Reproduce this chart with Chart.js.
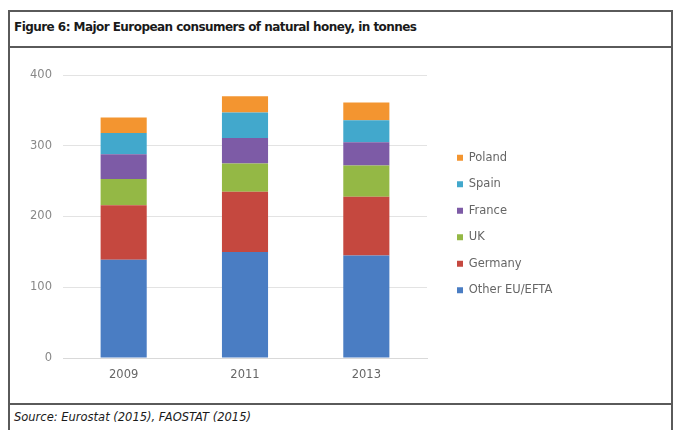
<!DOCTYPE html>
<html>
<head>
<meta charset="utf-8">
<script src="https://cdn.jsdelivr.net/npm/chart.js@4/dist/chart.umd.min.js"></script>
<style>
html,body{margin:0;padding:0;background:#fff;}
#wrap{position:relative;width:674px;height:430px;overflow:hidden;background:#fff;}
.ln{position:absolute;background:#5a5a5a;}
#title{position:absolute;left:14px;top:20px;font-family:"DejaVu Sans",sans-serif;font-weight:bold;font-size:12px;letter-spacing:-0.55px;color:#1a1a1a;white-space:nowrap;}
#src{position:absolute;left:14px;top:410px;font-family:"DejaVu Sans",sans-serif;font-style:italic;font-size:11.5px;color:#1a1a1a;white-space:nowrap;}
#cv{position:absolute;left:11px;top:49px;}
</style>
</head>
<body>
<div id="wrap">
  <div class="ln" style="left:8px;top:10px;width:2px;height:420px;"></div>
  <div class="ln" style="left:671px;top:10px;width:2px;height:420px;"></div>
  <div class="ln" style="left:8px;top:10px;width:665px;height:2px;"></div>
  <div class="ln" style="left:8px;top:46px;width:665px;height:2px;"></div>
  <div class="ln" style="left:8px;top:403px;width:665px;height:2px;"></div>
  <div id="title">Figure 6: Major European consumers of natural honey, in tonnes</div>
  <div id="src">Source: Eurostat (2015), FAOSTAT (2015)</div>
  <canvas id="cv" width="659" height="354" style="width:659px;height:354px;"></canvas>
</div>
<script>
const years = ["2009", "2011", "2013"];
const otherEU = [139, 150, 145];
const germany = [77, 85, 83];
const uk = [37, 40, 44];
const france = [35, 36, 33];
const spain = [30, 36, 31];
const poland = [22, 23, 25];
const yTicks = [0, 100, 200, 300, 400];

const seriesNames = ["Other EU/EFTA", "Germany", "UK", "France", "Spain", "Poland"];
const seriesData = [otherEU, germany, uk, france, spain, poland];
const seriesColors = ["#4a7dc3", "#c5483f", "#94b845", "#7d5ba6", "#42a8cc", "#f39530"];

const datasets = seriesNames.map((n, i) => ({
  label: n,
  data: seriesData[i],
  backgroundColor: seriesColors[i],
  borderWidth: 0,
  barPercentage: 0.38,
  categoryPercentage: 1.0
}));

const legendPlace = {
  id: 'legendPlace',
  beforeInit(chart) {
    const orig = chart.legend.fit;
    chart.legend.fit = function () {
      orig.call(this);
      this.width = 243;
    };
  },
  afterLayout(chart) {
    const lg = chart.legend;
    lg.left += 15; lg.right += 15;
    lg.top -= 15; lg.bottom -= 15;
  }
};

const FONT = '"DejaVu Sans", sans-serif';

new Chart(document.getElementById('cv'), {
  type: 'bar',
  data: { labels: years, datasets },
  plugins: [legendPlace],
  options: {
    responsive: false,
    animation: false,
    layout: { padding: { top: 26, bottom: 0, left: 0, right: 0 } },
    plugins: {
      tooltip: { enabled: false },
      legend: {
        position: 'right',
        reverse: true,
        labels: {
          boxWidth: 6,
          boxHeight: 6,
          padding: 15,
          color: '#666',
          font: { family: FONT, size: 11.5 }
        }
      }
    },
    scales: {
      x: {
        stacked: true,
        grid: { display: false, drawTicks: false },
        border: { display: true, color: '#d9d9d9', width: 1 },
        ticks: { color: '#666', padding: 10, font: { family: FONT, size: 11.5 } },
        afterFit(s) { s.height = 45; }
      },
      y: {
        stacked: true,
        min: 0,
        max: 400,
        afterBuildTicks(s) { s.ticks = yTicks.map(v => ({ value: v })); },
        grid: { color: '#e3e3e3', drawTicks: false, lineWidth: 1 },
        border: { display: false },
        ticks: { color: '#888', padding: 11, font: { family: FONT, size: 11.5 } },
        afterFit(s) { s.width = 52; }
      }
    }
  }
});
</script>
</body>
</html>
